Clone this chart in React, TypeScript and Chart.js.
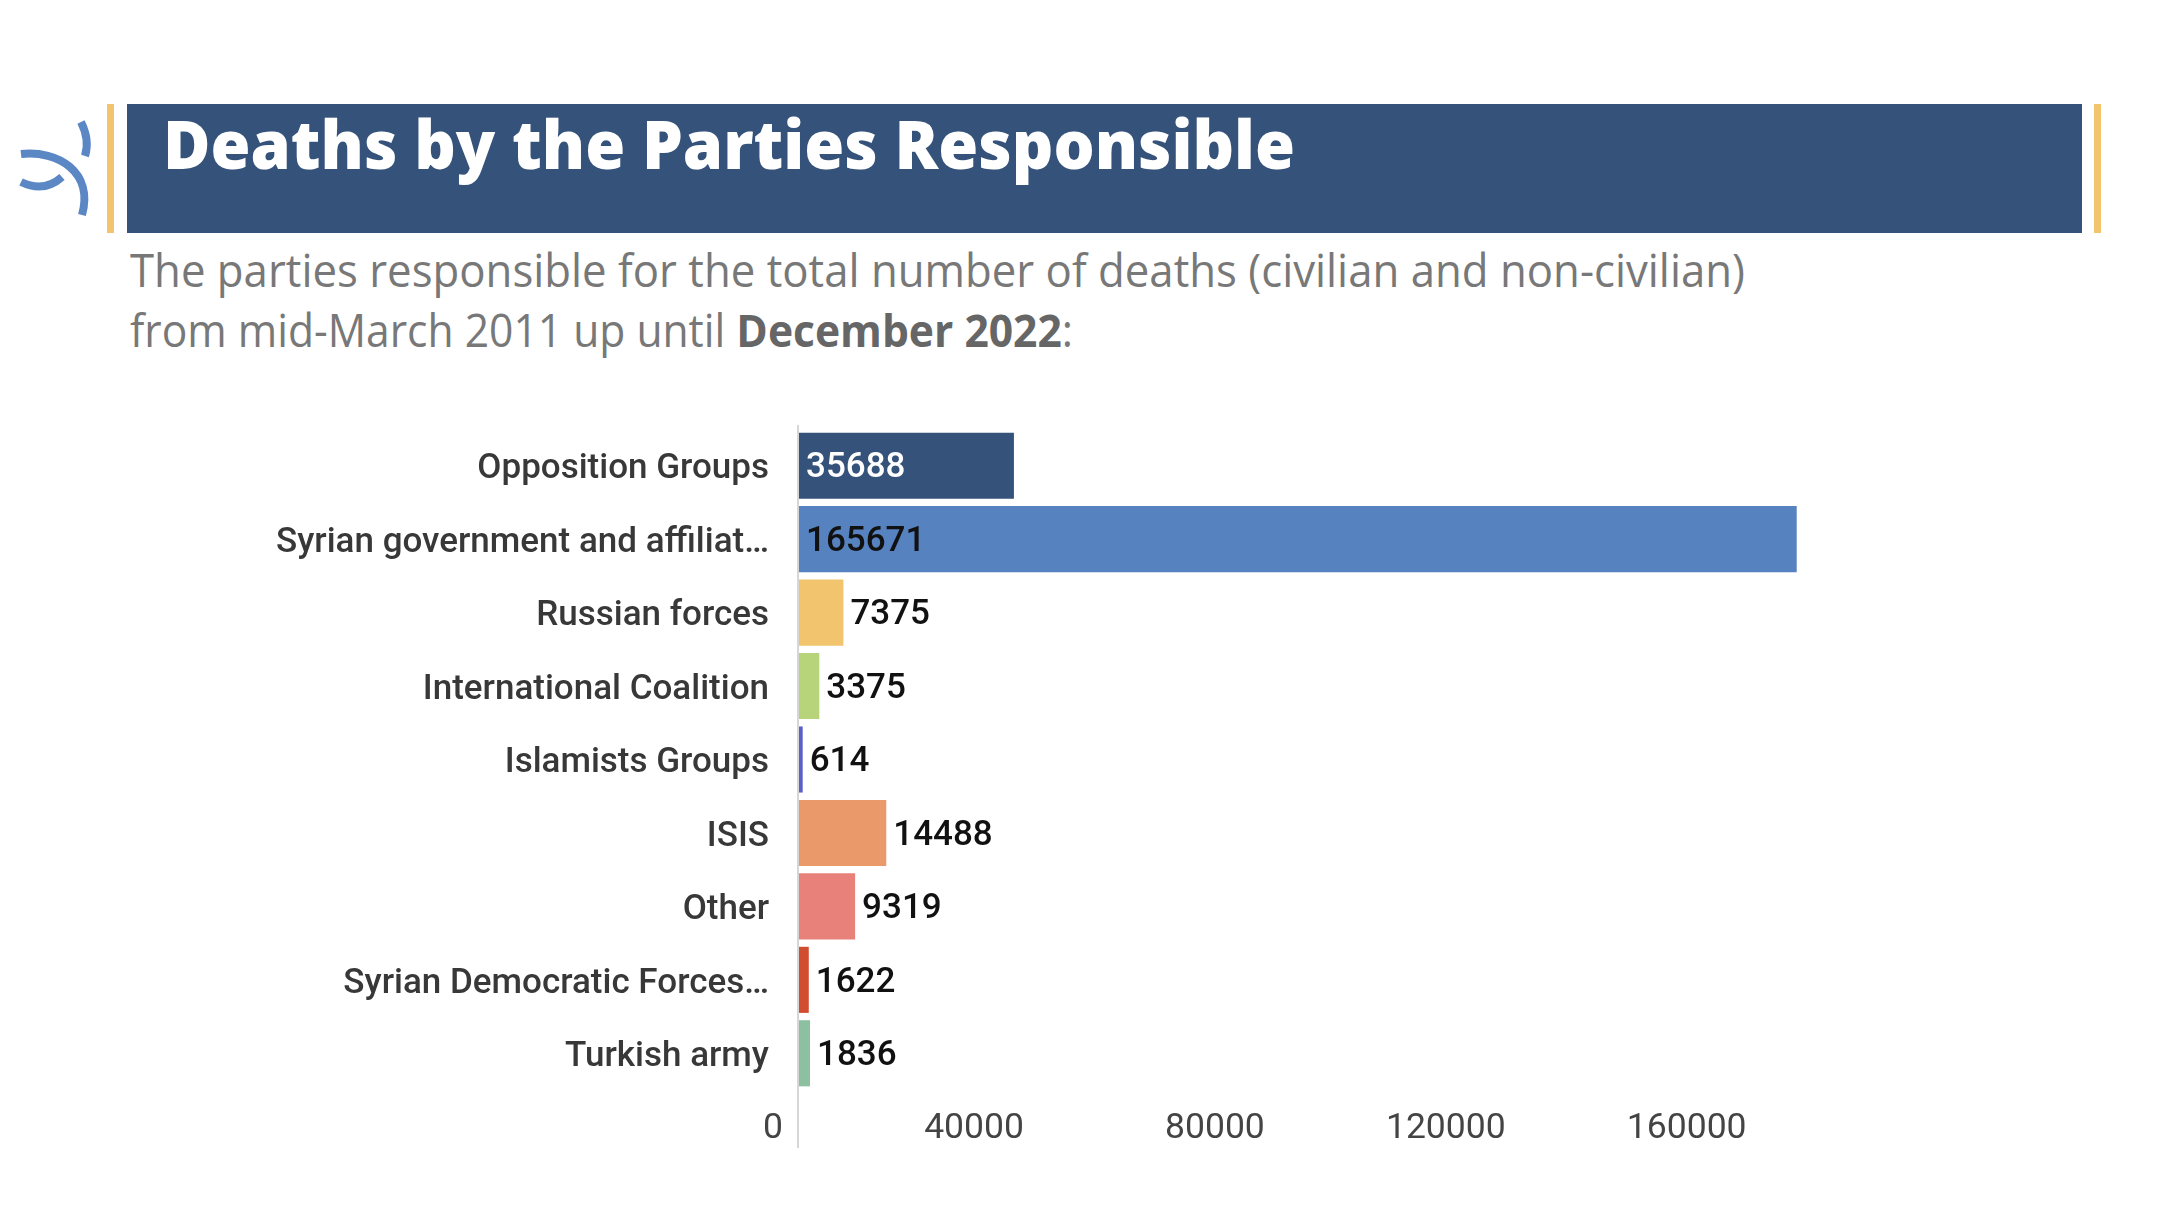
import React, { useEffect, useLayoutEffect, useRef } from "react";
import { Chart, registerables } from "chart.js";

Chart.register(...registerables);

// ---- data ----
const categories = [
  "Opposition Groups",
  "Syrian government and affiliat…",
  "Russian forces",
  "International Coalition",
  "Islamists Groups",
  "ISIS",
  "Other",
  "Syrian Democratic Forces…",
  "Turkish army",
];
const deaths = [35688, 165671, 7375, 3375, 614, 14488, 9319, 1622, 1836];
const barColors = [
  "#34527A",
  "#5682C0",
  "#F2C46D",
  "#B8D47A",
  "#5B5FC7",
  "#E9996A",
  "#E8817A",
  "#D04E2F",
  "#8CC0A0",
];
const insideLabelColors = ["#FFFFFF", "#111111", "#111111", "#111111", "#111111", "#111111", "#111111", "#111111", "#111111"];
const xTickValues = [0, 40000, 80000, 120000, 160000];
const xMax = 180000;

const titleText = "Deaths by the Parties Responsible";
const subtitleLine1 = "The parties responsible for the total number of deaths (civilian and non-civilian)";
const subtitleLine2a = "from mid-March 2011 up until ";
const subtitleLine2b = "December 2022";
const subtitleLine2c = ":";

const valueLabelsPlugin = {
  id: "valueLabels",
  afterDatasetsDraw(chart: any) {
    const ctx = chart.ctx;
    const meta = chart.getDatasetMeta(0);
    ctx.save();
    ctx.font = "500 35px Roboto";
    ctx.textBaseline = "middle";
    ctx.textAlign = "left";
    meta.data.forEach((bar: any, i: number) => {
      const p = bar.getProps(["x", "y", "base"], true);
      const txt = String(deaths[i]);
      const w = ctx.measureText(txt).width;
      const len = p.x - p.base;
      if (len > w + 20) {
        ctx.fillStyle = insideLabelColors[i];
        ctx.fillText(txt, p.base + 7, p.y + 3);
      } else {
        ctx.fillStyle = "#111111";
        ctx.fillText(txt, p.x + 7, p.y + 3);
      }
    });
    ctx.restore();
  },
};

const zeroLinePlugin = {
  id: "zeroLine",
  beforeDatasetsDraw(chart: any) {
    const ctx = chart.ctx;
    const x = chart.scales.x.getPixelForValue(0) - 1;
    const { top, bottom } = chart.chartArea;
    ctx.save();
    ctx.strokeStyle = "#D6D6D6";
    ctx.lineWidth = 2;
    ctx.beginPath();
    ctx.moveTo(x, top - 4);
    ctx.lineTo(x, bottom + 58);
    ctx.stroke();
    ctx.restore();
  },
};

function FitLine({ target, style, children }: { target: number; style: React.CSSProperties; children: React.ReactNode }) {
  const ref = useRef<HTMLDivElement>(null);
  useLayoutEffect(() => {
    const el = ref.current;
    if (!el) return;
    el.style.transform = "none";
    const w = el.getBoundingClientRect().width;
    if (w > 0) el.style.transform = `scaleX(${target / w})`;
  }, [target]);
  return (
    <div
      ref={ref}
      style={{
        position: "absolute",
        whiteSpace: "nowrap",
        display: "inline-block",
        transformOrigin: "left top",
        lineHeight: 1,
        ...style,
      }}
    >
      {children}
    </div>
  );
}

const subtitleStyle: React.CSSProperties = {
  left: 130,
  fontFamily: "'Open Sans', sans-serif",
  fontSize: 45,
  color: "#787878",
};

function BarChart() {
  const canvasRef = useRef<HTMLCanvasElement>(null);
  useEffect(() => {
    if (!canvasRef.current) return;
    const chart = new Chart(canvasRef.current, {
      type: "bar",
      data: {
        labels: categories,
        datasets: [
          {
            data: deaths,
            backgroundColor: barColors,
            borderWidth: 0,
            barPercentage: 0.9,
            categoryPercentage: 1.0,
          },
        ],
      },
      options: {
        indexAxis: "y",
        animation: false,
        responsive: false,
        maintainAspectRatio: false,
        layout: { padding: { top: 49, right: 287, bottom: 0, left: 0 } },
        plugins: {
          legend: { display: false },
          tooltip: { enabled: false },
          title: { display: false },
        },
        scales: {
          x: {
            type: "linear",
            min: 0,
            max: xMax,
            grid: { display: false },
            border: { display: false },
            afterBuildTicks: (scale: any) => {
              scale.ticks = xTickValues.map((v) => ({ value: v }));
            },
            afterFit: (scale: any) => {
              scale.height = 110;
            },
            ticks: {
              align: "end",
              labelOffset: -16,
              padding: 10,
              color: "#444444",
              font: { family: "Roboto", size: 35.5 },
              callback: (v: any) => String(v),
            },
          },
          y: {
            type: "category",
            grid: { display: false },
            border: { display: false },
            afterFit: (scale: any) => {
              scale.width = 799;
            },
            ticks: {
              padding: 22,
              labelOffset: 4,
              color: "#383838",
              font: { family: "Roboto", size: 35, weight: 500 },
            },
          },
        },
      },
      plugins: [zeroLinePlugin, valueLabelsPlugin],
    });
    return () => chart.destroy();
  }, []);
  return (
    <canvas
      ref={canvasRef}
      width={2170}
      height={820}
      style={{ position: "absolute", left: 0, top: 380, width: 2170, height: 820 }}
    />
  );
}

export default function App() {
  return (
    <div
      style={{
        position: "fixed",
        left: 0,
        top: 0,
        width: 2170,
        height: 1222,
        background: "#ffffff",
        overflow: "hidden",
      }}
    >
      <svg
        width={130}
        height={260}
        style={{ position: "absolute", left: 0, top: 0 }}
        viewBox="0 0 130 260"
      >
        <path d="M21,154 C58,150 94,172 82,215" fill="none" stroke="#5B87C5" strokeWidth={8} />
        <path d="M81,122 Q90,140 85,156" fill="none" stroke="#5B87C5" strokeWidth={8} />
        <path d="M21,182 Q44,193 62,177" fill="none" stroke="#5B87C5" strokeWidth={8} />
      </svg>
      <div style={{ position: "absolute", left: 107, top: 104, width: 7, height: 129, background: "#F2C46D" }} />
      <div style={{ position: "absolute", left: 127, top: 104, width: 1955, height: 129, background: "#34527A" }} />
      <div style={{ position: "absolute", left: 2094, top: 104, width: 7, height: 129, background: "#F2C46D" }} />
      <FitLine
        target={1132}
        style={{
          left: 163,
          top: 110,
          fontFamily: "'Open Sans', sans-serif",
          fontWeight: 800,
          fontSize: 67,
          color: "#ffffff",
        }}
      >
        {titleText}
      </FitLine>
      <FitLine target={1615} style={{ ...subtitleStyle, top: 247 }}>
        {subtitleLine1}
      </FitLine>
      <FitLine target={943} style={{ ...subtitleStyle, top: 307 }}>
        {subtitleLine2a}
        <span style={{ fontWeight: 700, color: "#666666" }}>{subtitleLine2b}</span>
        {subtitleLine2c}
      </FitLine>
      <BarChart />
    </div>
  );
}
